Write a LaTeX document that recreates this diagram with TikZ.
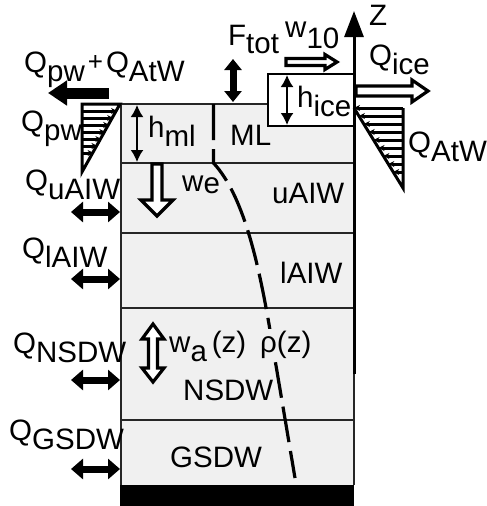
\documentclass[tikz,border=0pt]{standalone}
\usepackage{fontspec}
\setmainfont{Liberation Sans}
\usetikzlibrary{arrows.meta}
\newcommand\lw[1]{\raisebox{-9pt}{#1}}
\definecolor{bg}{RGB}{240,240,240}
\tikzset{
  lbl/.style={anchor=base west, inner sep=0pt, font=\fontsize{29.5pt}{31pt}\selectfont},
  layerline/.style={draw=black!85, line width=1.8pt},
  hollow/.style={draw=black, line width=3.2pt, fill=white, line join=miter},
  thickdbl/.style={line width=7pt, {Triangle[length=12pt,width=20pt]}-{Triangle[length=12pt,width=20pt]}},
  thindbl/.style={line width=1.8pt, {Latex[length=12pt,width=13pt]}-{Latex[length=12pt,width=13pt]}},
  hatchR/.style={line width=3pt, -{Stealth[length=6pt,width=6pt]}},
  rholine/.style={line width=3.2pt, dash pattern=on 36pt off 9pt},
}
\begin{document}
\begin{tikzpicture}[x=1pt,y=-1pt]
\useasboundingbox (0,0) rectangle (487,506);
% water column
\fill[bg] (121,104) -- (268,104) -- (268,126) -- (354,126) -- (354,485) -- (121,485) -- cycle;
\draw[layerline] (121,485) -- (121,104) -- (268,104);
\draw[layerline, line width=1.4pt] (354,374) -- (354,485);
\foreach \yy in {163,233,308,420} \draw[layerline] (121,\yy) -- (354,\yy);
\fill[black] (120,485) rectangle (354,506);
% ice
\draw[fill=white, line width=2.2pt] (268,74) rectangle (354,126);
% density profile
\draw[rholine] (213.5,104) -- (213.5,163) .. controls (243,195) and (258,260) .. (270,330) -- (295,478);
% Z axis
\coordinate (zb) at (354,374);
\coordinate (zt) at (354,11);
\draw[line width=3pt, -{Triangle[length=26pt,width=19pt]}] (zb) -- (zt);
\node[lbl] (zl) at (369,25) {Z};
% left triangle Q_pw
\draw[line width=3pt, line join=miter] (82,104) -- (120,104) -- (82,172) -- cycle;
\foreach \yy in {111,118,125,132,139,146,153}
  \draw[hatchR] (82,\yy) -- ({120-(\yy-104)*38/68+1},\yy);
% right triangle Q_AtW
\draw[line width=3pt, line join=miter] (403,108) -- (403,188) -- (354,108);
\foreach \yy in {108,116,124,132,140,148,156,164,172}
  \draw[hatchR] (403,\yy) -- ({354+(\yy-108)*49/80},\yy);
% big arrow Q_pw + Q_AtW
\coordinate (qa1) at (109,93);
\coordinate (qa2) at (48,93);
\draw[line width=11pt, -{Triangle[length=19pt,width=24pt]}] (qa1) -- (qa2);
% F_tot
\coordinate (f1) at (233,59);
\coordinate (f2) at (233,102);
\draw[line width=7pt, {Triangle[length=11pt,width=17pt]}-{Triangle[length=11pt,width=17pt]}] (f1) -- (f2);
% side exchange arrows
\foreach \yy/\nm in {212/a,279/b,380/c,469/d}{
  \coordinate (sl\nm) at (71,\yy);
  \coordinate (sr\nm) at (120,\yy);
  \draw[thickdbl] (sl\nm) -- (sr\nm);
}
% thin double arrows
\coordinate (hm1) at (137,105);
\coordinate (hm2) at (137,162);
\draw[thindbl] (hm1) -- (hm2);
\coordinate (hi1) at (287,75);
\coordinate (hi2) at (287,125);
\draw[thindbl] (hi1) -- (hi2);
% hollow arrows
\draw[hollow] (286,58.5) -- (325,58.5) -- (325,54.5) -- (337,62) -- (325,69.5) -- (325,65.5) -- (286,65.5) -- cycle;
\draw[hollow] (356,86) -- (412,86) -- (412,80) -- (428,91) -- (412,102) -- (412,96) -- (356,96) -- cycle;
\draw[hollow] (152,164) -- (152,200) -- (141,200) -- (157,216) -- (173,200) -- (162,200) -- (162,164) -- cycle;
\draw[hollow] (153,324) -- (164,339) -- (157.5,339) -- (157.5,368) -- (164,368) -- (153,382) -- (142,368) -- (148.5,368) -- (148.5,339) -- (142,339) -- cycle;
% labels
\node[lbl] (lqpa) at (24,72) {Q\lw{pw}\hspace{3pt}\raisebox{2pt}{\fontsize{26pt}{26pt}\selectfont +}\hspace{3pt}Q\lw{AtW}};
\node[lbl] (lqpw) at (21,131) {Q\lw{pw}};
\node[lbl] (lqu) at (25,190) {Q\lw{uAIW}};
\node[lbl] (lql) at (22,258) {Q\lw{lAIW}};
\node[lbl] (lqn) at (13,353) {Q\lw{NSDW}};
\node[lbl] (lqg) at (9,440) {Q\lw{GSDW}};
\node[lbl] (lf) at (228,45) {F\lw{tot}};
\node[lbl] (lw10) at (285,37) {w\raisebox{-11pt}{10}};
\node[lbl] (lqi) at (369,65) {Q\lw{ice}};
\node[lbl] (lqat) at (408,152) {Q\lw{AtW}};
\node[lbl] (lhi) at (297,107) {h\lw{ice}};
\node[lbl] (lhm) at (148,137) {h\lw{ml}};
\node[lbl] (lml) at (230,145) {ML};
\node[lbl] (lua) at (272,203) {uAIW};
\node[lbl] (lla) at (280,283) {lAIW};
\node[lbl] (lns) at (183,400) {NSDW};
\node[lbl] (lgs) at (170,467) {GSDW};
\node[lbl] (lwe) at (182,191) {w\raisebox{-2pt}{e}};
\node[lbl] (lwa) at (169,352) {w\lw{a}\,(z)};
\node[lbl, fill=bg, inner sep=2pt] (lrho) at (258,352) {ρ(z)};
\end{tikzpicture}
\end{document}
